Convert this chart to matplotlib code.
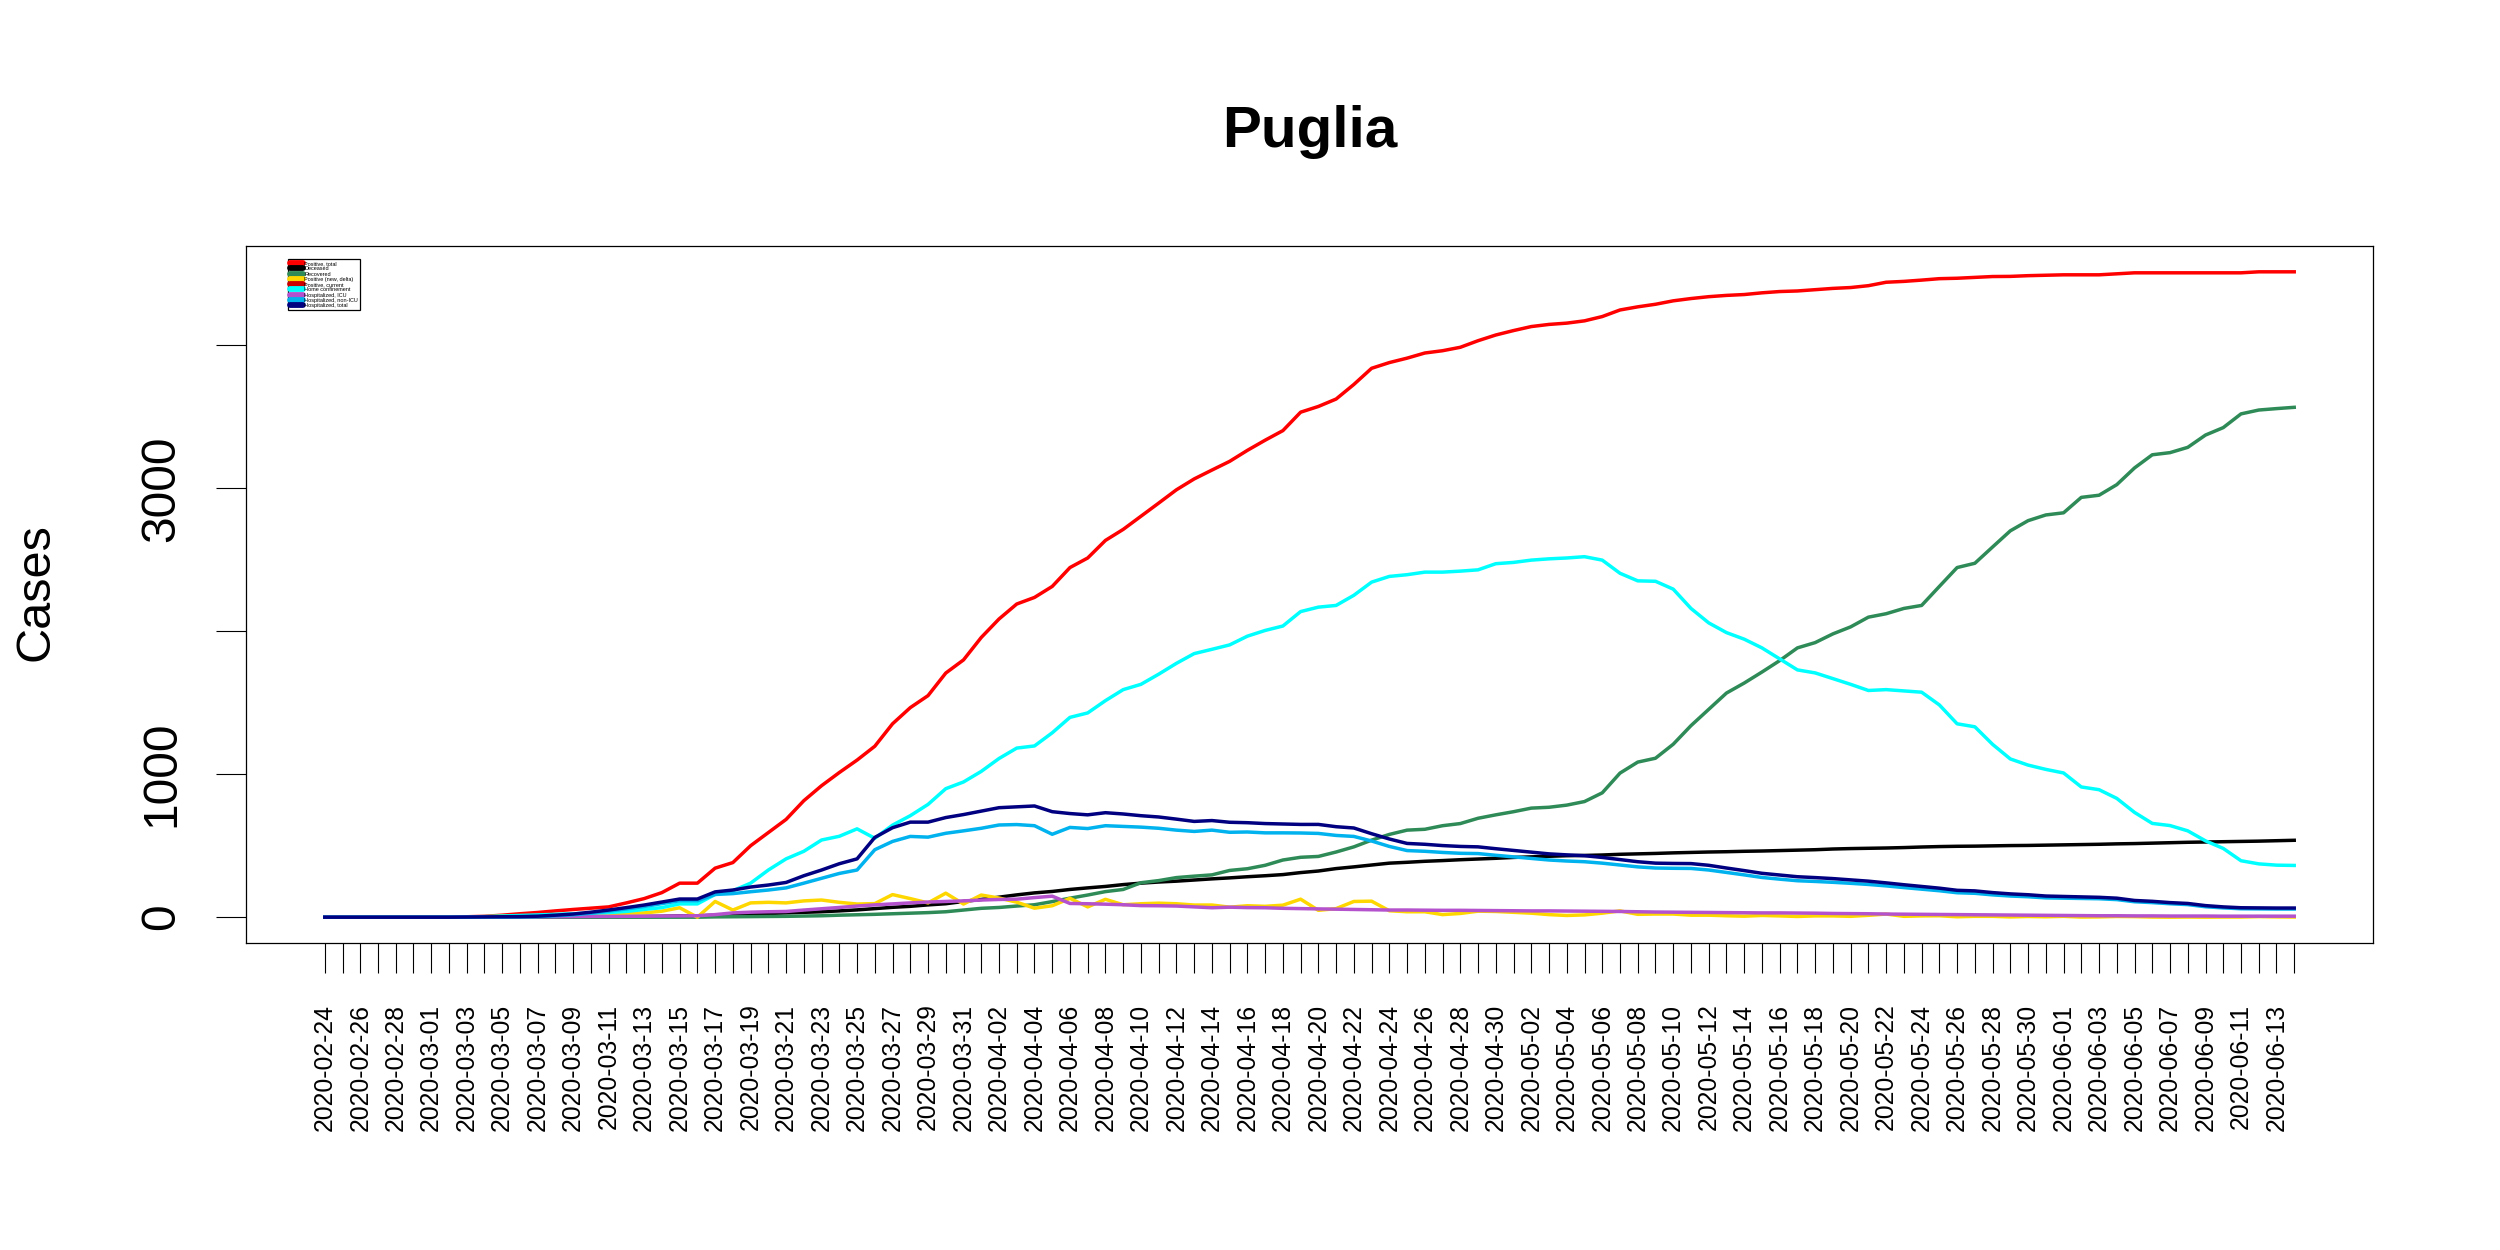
import datetime as dt

import matplotlib
matplotlib.use("Agg")
import matplotlib.pyplot as plt
from matplotlib.lines import Line2D

plt.rcParams["font.family"] = ["Liberation Sans", "DejaVu Sans"]

# daily series, 2020-02-24 .. 2020-06-14
start = dt.date(2020, 2, 24)
dates = [(start + dt.timedelta(days=i)).isoformat() for i in range(112)]

positive_total = [
    0, 0, 1, 1, 1, 1, 1, 1, 3, 6, 14, 24, 33, 44, 54, 63, 72, 100, 130, 172,
    238, 238, 343, 382, 500, 592, 684, 815, 920, 1012, 1099, 1196, 1353, 1466, 1550, 1708, 1800, 1957, 2086, 2191,
    2237, 2314, 2446, 2513, 2636, 2713, 2805, 2897, 2990, 3066, 3128, 3189, 3266, 3337, 3404, 3533, 3573, 3625, 3727, 3840,
    3880, 3911, 3947, 3963, 3987, 4033, 4073, 4104, 4132, 4147, 4156, 4172, 4202, 4248, 4270, 4288, 4312, 4328, 4341, 4350,
    4356, 4368, 4377, 4381, 4390, 4399, 4405, 4418, 4442, 4448, 4457, 4467, 4470, 4476, 4482, 4483, 4488, 4491, 4494, 4494,
    4494, 4501, 4508, 4508, 4508, 4508, 4508, 4508, 4508, 4515, 4515, 4515,
]
deceased = [
    0, 0, 0, 0, 0, 0, 0, 0, 0, 0, 0, 0, 0, 0, 1, 2, 3, 4, 5, 6,
    9, 9, 14, 18, 21, 26, 30, 34, 38, 44, 51, 60, 69, 76, 86, 94, 110, 124, 140, 156,
    170, 180, 194, 205, 215, 228, 238, 246, 252, 260, 268, 275, 283, 290, 298, 312, 323, 340, 352, 365,
    378, 384, 391, 396, 402, 407, 412, 418, 422, 426, 430, 432, 435, 440, 443, 446, 450, 453, 456, 458,
    461, 463, 466, 469, 472, 477, 480, 482, 484, 487, 491, 494, 496, 497, 499, 501, 502, 504, 506, 508,
    510, 513, 515, 518, 521, 524, 526, 528, 530, 532, 535, 538,
]
recovered = [
    0, 0, 0, 0, 0, 0, 0, 0, 0, 0, 0, 0, 0, 0, 0, 0, 0, 0, 0, 0,
    0, 0, 2, 3, 4, 5, 6, 8, 10, 14, 17, 20, 24, 28, 32, 38, 50, 62, 68, 78,
    87, 109, 133, 155, 179, 194, 241, 256, 277, 287, 296, 327, 339, 363, 400, 419, 425, 456, 492, 539,
    579, 609, 615, 640, 655, 692, 716, 738, 763, 769, 784, 809, 870, 1008, 1085, 1112, 1210, 1340, 1454, 1568,
    1638, 1715, 1795, 1884, 1921, 1982, 2031, 2099, 2123, 2160, 2181, 2314, 2446, 2476, 2590, 2703, 2774, 2814, 2829, 2937,
    2952, 3026, 3143, 3235, 3250, 3287, 3373, 3425, 3521, 3548, 3558, 3567,
]
positive_new = [
    0, 0, 1, 0, 0, 0, 0, 0, 2, 3, 8, 10, 9, 11, 10, 9, 9, 28, 30, 42,
    66, 0, 110, 50, 100, 104, 100, 114, 120, 104, 92, 95, 158, 130, 100, 168, 92, 155, 134, 105,
    63, 80, 132, 72, 125, 87, 94, 98, 94, 85, 85, 70, 80, 76, 84, 126, 48, 60, 110, 112,
    45, 38, 38, 18, 26, 42, 40, 34, 28, 18, 12, 16, 28, 44, 20, 22, 22, 14, 14, 10,
    7, 12, 9, 5, 9, 9, 6, 13, 22, 6, 9, 10, 3, 6, 6, 2, 5, 3, 6, 1,
    2, 5, 4, 1, 0, 1, 0, 1, 1, 4, 2, 1,
]
home_confinement = [
    0, 0, 1, 1, 1, 1, 1, 1, 2, 4, 8, 12, 16, 20, 24, 28, 32, 40, 54, 67,
    93, 93, 159, 185, 238, 330, 408, 461, 540, 566, 618, 552, 644, 710, 789, 899, 946, 1020, 1110, 1183,
    1198, 1290, 1398, 1429, 1515, 1592, 1629, 1700, 1776, 1844, 1874, 1905, 1966, 2006, 2037, 2138, 2169, 2181, 2252, 2344,
    2384, 2396, 2414, 2414, 2421, 2430, 2473, 2482, 2498, 2507, 2513, 2522, 2498, 2406, 2353, 2350, 2295, 2160, 2059, 1991,
    1945, 1884, 1807, 1730, 1709, 1669, 1629, 1586, 1592, 1583, 1574, 1485, 1353, 1332, 1209, 1107, 1064, 1034, 1009, 911,
    892, 831, 733, 656, 641, 604, 534, 481, 395, 373, 364, 362,
]
hosp_icu = [
    0, 0, 0, 0, 0, 0, 0, 0, 1, 1, 2, 2, 3, 3, 4, 5, 5, 6, 7, 8,
    9, 10, 18, 30, 35, 38, 40, 50, 59, 68, 78, 86, 93, 100, 106, 110, 114, 120, 124, 126,
    137, 147, 96, 94, 91, 87, 81, 80, 78, 72, 66, 70, 67, 66, 62, 60, 58, 56, 54, 52,
    50, 50, 49, 48, 48, 47, 46, 45, 44, 44, 43, 42, 41, 40, 38, 36, 35, 34, 33, 32,
    31, 30, 30, 29, 28, 26, 25, 24, 22, 21, 20, 19, 18, 17, 16, 15, 14, 13, 12, 11,
    10, 10, 9, 9, 8, 8, 8, 7, 7, 7, 7, 7,
]
hosp_non_icu = [
    0, 0, 0, 0, 0, 0, 0, 0, 0, 1, 1, 2, 4, 10, 17, 28, 42, 58, 75, 95,
    115, 115, 159, 165, 178, 190, 205, 238, 272, 306, 330, 472, 530, 565, 560, 587, 604, 622, 645, 648,
    640, 580, 628, 620, 640, 635, 630, 622, 609, 600, 609, 594, 596, 590, 590, 589, 586, 572, 565, 533,
    495, 466, 461, 453, 447, 445, 433, 422, 411, 400, 393, 388, 378, 365, 352, 344, 342, 341, 330, 313,
    296, 278, 266, 255, 250, 244, 237, 229, 219, 207, 196, 185, 171, 167, 156, 148, 143, 135, 133, 131,
    129, 123, 108, 102, 94, 88, 73, 65, 59, 58, 57, 57,
]
hosp_total = [
    0, 0, 0, 0, 0, 0, 0, 0, 1, 2, 3, 4, 7, 14, 22, 35, 50, 67, 85, 106,
    127, 127, 177, 190, 211, 225, 243, 290, 330, 374, 408, 558, 626, 665, 665, 697, 718, 742, 766, 772,
    778, 738, 725, 716, 731, 722, 710, 701, 686, 670, 676, 664, 661, 655, 652, 649, 649, 633, 624, 584,
    547, 516, 510, 501, 495, 492, 479, 467, 455, 443, 436, 430, 418, 403, 388, 378, 376, 375, 363, 344,
    326, 307, 295, 283, 277, 270, 261, 252, 240, 227, 215, 203, 188, 184, 172, 163, 157, 148, 145, 142,
    139, 133, 117, 111, 102, 96, 81, 72, 66, 65, 64, 64,
]

legend_labels = [
    "Positive, total", "Deceased", "Recovered", "Positive (new, delta)",
    "Positive, current", "Home confinement", "Hospitalized, ICU",
    "Hospitalized, non-ICU", "Hospitalized, total",
]
legend_colors = [
    "#FF0000", "#000000", "#2E8B57", "#FFD700", "#CD0000",
    "#00FFFF", "#B452CD", "#00B2EE", "#000080",
]

# series drawn, in drawing order (label index -> values)
series = [
    (0, positive_total),
    (1, deceased),
    (2, recovered),
    (3, positive_new),
    (5, home_confinement),
    (6, hosp_icu),
    (7, hosp_non_icu),
    (8, hosp_total),
]

fig = plt.figure(figsize=(25, 12.5), dpi=100)
ax = fig.add_axes([0.0984, 0.2456, 0.8508, 0.5576])

x = list(range(len(dates)))
for idx, vals in series:
    ax.plot(x, vals, color=legend_colors[idx], lw=2.5, solid_joinstyle="round")

ax.margins(x=0.04, y=0.04)

ax.set_xticks(x)
ax.set_xticklabels([d if i % 2 == 0 else "" for i, d in enumerate(dates)],
                   rotation=90, fontsize=17.8, ha="center", va="top")
ax.set_yticks([0, 1000, 2000, 3000, 4000])
ax.set_yticklabels(["0", "1000", "", "3000", ""], rotation=90,
                   fontsize=34.5, va="center")
ax.tick_params(axis="x", direction="out", length=21.6, width=0.8, pad=22)
ax.tick_params(axis="y", direction="out", length=21.6, width=0.8, pad=23)
for sp in ax.spines.values():
    sp.set_linewidth(0.9)

fig.text(0.524, 1 - 147 / 1250, "Puglia", ha="center", va="baseline",
         fontsize=42, fontweight="bold")
fig.text(36 / 2500, 1 - 592 / 1250, "Cases", rotation=90, ha="center",
         va="center", fontsize=35)

handles = [Line2D([0], [0], color=c, lw=4.2, solid_capstyle="round")
           for c in legend_colors]
leg = fig.legend(handles, legend_labels, loc="upper left",
                 bbox_to_anchor=(288 / 2500, 1 - 259 / 1250),
                 fontsize=4, labelspacing=0.05, borderpad=0.35,
                 handlelength=2.4, handletextpad=0.2, borderaxespad=0,
                 fancybox=False, framealpha=1, edgecolor="black")
leg.get_frame().set_linewidth(0.9)

fig.savefig("out.png", dpi=100)
